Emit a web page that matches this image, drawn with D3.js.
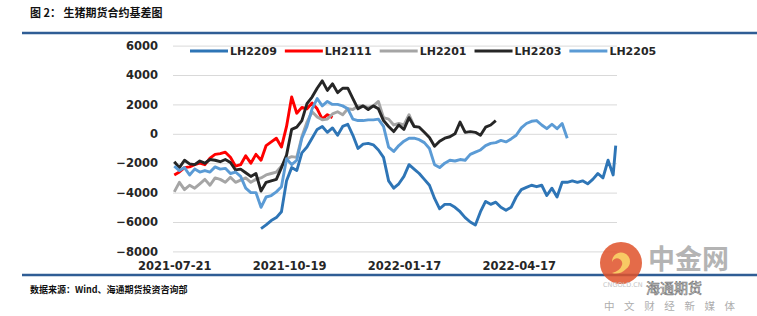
<!DOCTYPE html>
<html>
<head>
<meta charset="utf-8">
<script src="https://cdn.jsdelivr.net/npm/d3@7"></script>
<style>
  body { margin: 0; background: #fff; }
  figure { margin: 0; }
  svg { display: block; }
</style>
</head>
<body>
<figure id="chart"></figure>
<script>
// dates of the sampled points (every 4 days)
const dates = [
  "2021-07-21","2021-07-25","2021-07-29","2021-08-02","2021-08-06","2021-08-10","2021-08-14","2021-08-18","2021-08-22","2021-08-26",
  "2021-08-30","2021-09-03","2021-09-07","2021-09-11","2021-09-15","2021-09-19","2021-09-23","2021-09-27","2021-10-01","2021-10-05",
  "2021-10-09","2021-10-13","2021-10-17","2021-10-21","2021-10-25","2021-10-29","2021-11-02","2021-11-06","2021-11-10","2021-11-14",
  "2021-11-18","2021-11-22","2021-11-26","2021-11-30","2021-12-04","2021-12-08","2021-12-12","2021-12-16","2021-12-20","2021-12-24",
  "2021-12-28","2022-01-01","2022-01-05","2022-01-09","2022-01-13","2022-01-17","2022-01-21","2022-01-25","2022-01-29","2022-02-02",
  "2022-02-06","2022-02-10","2022-02-14","2022-02-18","2022-02-22","2022-02-26","2022-03-02","2022-03-06","2022-03-10","2022-03-14",
  "2022-03-18","2022-03-22","2022-03-26","2022-03-30","2022-04-03","2022-04-07","2022-04-11","2022-04-15","2022-04-19","2022-04-23",
  "2022-04-27","2022-05-01","2022-05-05","2022-05-09","2022-05-13","2022-05-17","2022-05-21","2022-05-25","2022-05-29","2022-06-02",
  "2022-06-06","2022-06-10","2022-06-14","2022-06-18","2022-06-22","2022-06-26","2022-06-30","2022-07-02"
];

// basis values per contract (null = not traded yet)
const lh2209 = [
  null,null,null,null,null,null,null,null,null,null,
  null,null,null,null,null,null,null,-6450,-6200,-5900,
  -5700,-5300,-3200,-2300,-2500,-1300,-900,-300,300,500,
  100,400,-100,500,650,-100,-1000,-700,-650,-750,
  -1100,-1600,-3200,-3700,-3400,-2900,-2100,-2400,-2700,-3100,
  -3500,-4400,-5100,-4800,-4800,-5000,-5300,-5700,-6000,-6200,
  -5300,-4600,-4800,-4650,-5000,-5200,-5000,-4300,-3800,-3650,
  -3500,-3600,-3500,-4200,-3700,-4300,-3300,-3300,-3200,-3300,
  -3200,-3400,-3100,-2700,-3000,-1800,-2800,-800
];
const lh2111 = [
  -2800,-2600,-2300,-2250,-2100,-2000,-2100,-1650,-1400,-1350,
  -1250,-1600,-2200,-2100,-1500,-2000,-1400,-1800,-800,-550,
  -300,-900,500,2500,1400,1800,1700,2100,1700,1000,
  1300,1100
];
const lh2201 = [
  -3950,-3300,-3800,-3500,-3700,-3400,-3100,-3500,-3000,-3100,
  -3300,-2950,-3300,-3150,-3000,-3300,-3100,-3000,-2800,-2700,
  -2600,-2200,-1700,-1550,-1600,-200,800,1500,1150,950,
  1000,1350,1500,1300,1700,1650,1900,1900,1800,1900,
  2200,1100,1000,600,700,600,1300,500
];
const lh2203 = [
  -1900,-2300,-1800,-2050,-2100,-1850,-2000,-1750,-1800,-1900,
  -1750,-1950,-2450,-2400,-2650,-2900,-2700,-3900,-3300,-3200,
  -3100,-2300,-1450,300,450,900,2050,2500,3100,3600,
  2950,3400,2800,3100,3100,2400,1700,1900,1650,1900,
  1700,900,500,150,600,300,1100,500,450,100,
  -250,-850,-500,-300,-200,0,800,100,150,100,
  -100,450,600,900
];
const lh2205 = [
  -2200,-2500,-2300,-2800,-2400,-2600,-2500,-2600,-2250,-2400,
  -2350,-2700,-2600,-2900,-3700,-4000,-4000,-5000,-4300,-4200,
  -3950,-3600,-1700,-2100,-1800,-300,500,1700,2400,1900,
  2200,2000,2000,1900,1700,1000,900,900,950,950,
  1000,500,-900,-1200,-800,-500,-300,-300,-400,-600,
  -1000,-2100,-2300,-2000,-1800,-1850,-1750,-1800,-1400,-1250,
  -1100,-800,-650,-600,-450,-550,-350,-100,400,700,
  850,900,600,350,650,350,700,-300
];

const seriesNames = ["LH2209", "LH2111", "LH2201", "LH2203", "LH2205"];
const seriesValues = [lh2209, lh2111, lh2201, lh2203, lh2205];
const seriesColors = ["#2e75b6", "#ff0000", "#a5a5a5", "#262626", "#5b9bd5"];

const yTicks = [-8000, -6000, -4000, -2000, 0, 2000, 4000, 6000];
const xTickLabels = ["2021-07-21", "2021-10-19", "2022-01-17", "2022-04-17"];

const width = 757, height = 316;
const plotLeft = 173, plotRight = 617, plotTop = 45.6, plotBottom = 251.4;
const numFont = "'DejaVu Sans', sans-serif";
const cjkFont = "'Noto Sans CJK SC', sans-serif";
const parse = d3.timeParse("%Y-%m-%d");

const svg = d3.select("#chart").append("svg")
  .attr("width", width)
  .attr("height", height);

// header and rules
svg.append("text")
  .attr("x", 30).attr("y", 17)
  .style("font-family", cjkFont).style("font-size", "11px").style("font-weight", "bold")
  .attr("fill", "#111")
  .text("图 2： 生猪期货合约基差图");

svg.append("line")
  .attr("x1", 22).attr("x2", 757).attr("y1", 33).attr("y2", 33)
  .attr("stroke", "#2f5d95").attr("stroke-width", 2.5);

svg.append("line")
  .attr("x1", 22).attr("x2", 757).attr("y1", 275).attr("y2", 275)
  .attr("stroke", "#2f5d95").attr("stroke-width", 2.5);

svg.append("text")
  .attr("x", 30).attr("y", 293)
  .style("font-family", cjkFont).style("font-size", "9px").style("font-weight", "bold")
  .attr("fill", "#111")
  .text("数据来源：Wind、海通期货投资咨询部");

// scales
const x = d3.scaleTime()
  .domain([parse("2021-07-20"), parse("2022-07-03")])
  .range([plotLeft, plotRight]);

const y = d3.scaleLinear()
  .domain([-8000, 6000])
  .range([plotBottom, plotTop]);

// y axis with gridlines
const yAxis = svg.append("g")
  .attr("transform", "translate(" + plotLeft + ",0)")
  .call(d3.axisLeft(y).tickValues(yTicks).tickSize(-(plotRight - plotLeft)).tickPadding(15).tickFormat(d3.format("d")));
yAxis.select(".domain").remove();
yAxis.selectAll("line").attr("stroke", "#d9d9d9");
yAxis.selectAll("text")
  .style("font-family", numFont).style("font-size", "11.5px").style("font-weight", "bold")
  .attr("fill", "#262626");

// x axis labels
const xAxis = svg.append("g")
  .attr("transform", "translate(0," + plotBottom + ")")
  .call(d3.axisBottom(x).tickValues(xTickLabels.map(parse)).tickSize(0).tickPadding(10).tickFormat(d3.timeFormat("%Y-%m-%d")));
xAxis.select(".domain").remove();
xAxis.selectAll("text")
  .style("font-family", numFont).style("font-size", "11.5px").style("font-weight", "bold")
  .attr("fill", "#262626");

// lines
const line = d3.line()
  .defined(d => d.value != null)
  .x(d => x(d.date))
  .y(d => y(d.value));

seriesNames.forEach((name, i) => {
  const pts = dates.map((d, j) => ({ date: parse(d), value: seriesValues[i][j] }));
  svg.append("path")
    .datum(pts)
    .attr("fill", "none")
    .attr("stroke", seriesColors[i])
    .attr("stroke-width", 2.9)
    .attr("stroke-linejoin", "round")
    .attr("d", line);
});

// legend
let lx = 190;
const ly = 51;
seriesNames.forEach((name, i) => {
  svg.append("line")
    .attr("x1", lx).attr("x2", lx + 38).attr("y1", ly).attr("y2", ly)
    .attr("stroke", seriesColors[i]).attr("stroke-width", 2.9);
  const t = svg.append("text")
    .attr("x", lx + 40).attr("y", ly + 4)
    .style("font-family", numFont).style("font-size", "11px").style("font-weight", "bold")
    .attr("fill", "#262626")
    .text(name);
  lx += 40 + t.node().getComputedTextLength() + 8;
});

// watermark of the source site
const wm = svg.append("g").attr("opacity", 0.85);
wm.append("circle").attr("cx", 621).attr("cy", 263).attr("r", 21).attr("fill", "#e0522a");
wm.append("path")
  .attr("d", "M612,262 a9,9 0 1,1 14,7 q-6,6 -14,4 q8,-2 10,-8 a5,5 0 1,0 -10,-3 z")
  .attr("fill", "#f7c04a");
wm.append("text")
  .attr("x", 648).attr("y", 269)
  .style("font-family", cjkFont).style("font-size", "27px").style("font-weight", "bold")
  .attr("fill", "#a8a8a8")
  .text("中金网");
wm.append("text")
  .attr("x", 603).attr("y", 287)
  .style("font-family", numFont).style("font-size", "6.5px")
  .attr("fill", "#bbbbbb")
  .text("CNGOLD.CN");
wm.append("text")
  .attr("x", 646).attr("y", 293)
  .style("font-family", cjkFont).style("font-size", "14px")
  .attr("fill", "#ffffff").attr("stroke", "#666").attr("stroke-width", 0.7)
  .text("海通期货");
wm.append("text")
  .attr("x", 604).attr("y", 310)
  .style("font-family", cjkFont).style("font-size", "10.5px").style("letter-spacing", "9.6px")
  .attr("fill", "#a0a0a0")
  .text("中文财经新媒体");
</script>
</body>
</html>
